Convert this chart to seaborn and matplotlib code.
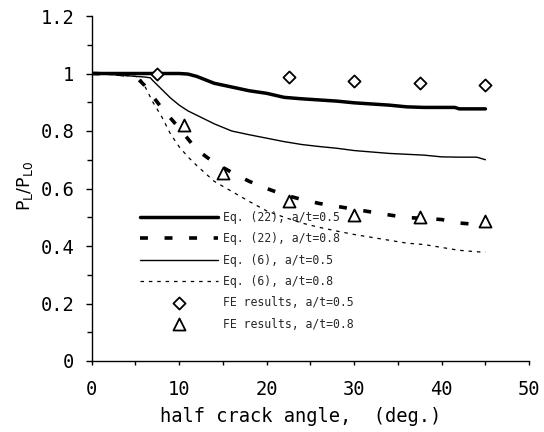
import matplotlib
matplotlib.use("Agg")
import matplotlib.pyplot as plt
import seaborn as sns
import numpy as np
from matplotlib.ticker import MultipleLocator, FuncFormatter

# Half crack angle (deg.) and normalised limit load P_L/P_L0
theta_eq22_05 = [0, 5, 10, 11, 12, 13, 14, 16, 18, 20, 22, 24, 26, 28, 30, 32, 34, 36, 38, 40, 41.5, 42, 45]
pl_eq22_05 = [1.0, 1.0, 1.0, 0.998, 0.99, 0.978, 0.966, 0.953, 0.940, 0.931, 0.917, 0.912,
              0.908, 0.904, 0.898, 0.894, 0.890, 0.884, 0.882, 0.882, 0.882, 0.877, 0.877]

theta_eq22_08 = [0, 3, 5, 6, 7, 8, 9, 10, 12, 14, 16, 18, 20, 22, 24, 26, 28, 30, 32, 34, 36, 38, 40, 42, 44, 45]
pl_eq22_08 = [1.0, 0.998, 0.99, 0.96, 0.92, 0.88, 0.845, 0.81, 0.735, 0.69, 0.656, 0.625, 0.60,
              0.578, 0.562, 0.548, 0.538, 0.528, 0.518, 0.508, 0.499, 0.496, 0.492, 0.48, 0.475, 0.473]

theta_eq6_05 = [0, 3, 5, 6, 6.7, 7, 8, 9, 10, 11, 12, 14, 16, 18, 20, 22, 24, 26, 28, 30, 32, 34,
                36, 38, 40, 42, 44, 45]
pl_eq6_05 = [1.0, 0.995, 0.99, 0.988, 0.985, 0.975, 0.945, 0.915, 0.89, 0.87, 0.855, 0.825, 0.80,
             0.787, 0.775, 0.763, 0.753, 0.746, 0.74, 0.732, 0.727, 0.722, 0.719, 0.716, 0.71,
             0.709, 0.709, 0.70]

theta_eq6_08 = [0, 3, 5, 5.5, 6, 7, 8, 9, 10, 11, 12, 14, 16, 18, 20, 22, 24, 26, 28, 30, 32, 34,
                36, 38, 40, 42, 44, 45]
pl_eq6_08 = [1.0, 0.995, 0.99, 0.985, 0.96, 0.9, 0.85, 0.79, 0.745, 0.71, 0.68, 0.625, 0.59,
             0.555, 0.522, 0.50, 0.48, 0.465, 0.452, 0.44, 0.43, 0.42, 0.41, 0.405, 0.395, 0.385,
             0.38, 0.378]

theta_fe_05 = [7.5, 22.5, 30, 37.5, 45]
pl_fe_05 = [1.0, 0.987, 0.974, 0.968, 0.96]

theta_fe_08 = [10.5, 15, 22.5, 30, 37.5, 45]
pl_fe_08 = [0.82, 0.655, 0.558, 0.508, 0.5, 0.487]

labels = ["Eq. (22), a/t=0.5", "Eq. (22), a/t=0.8", "Eq. (6), a/t=0.5", "Eq. (6), a/t=0.8",
          "FE results, a/t=0.5", "FE results, a/t=0.8"]

x_ticks = [0, 10, 20, 30, 40, 50]
y_ticks = [0, 0.2, 0.4, 0.6, 0.8, 1.0, 1.2]

sns.set_style("ticks")
plt.rcParams["font.family"] = ["DejaVu Sans Mono"]

fig = plt.figure(figsize=(5.44, 4.32), dpi=100)
ax = fig.add_axes([91.7 / 544, 1 - 361 / 432, 437.5 / 544, 345 / 432])

sns.lineplot(x=theta_eq22_05, y=pl_eq22_05, ax=ax, color="black", lw=2.5,
             sort=False, estimator=None, label=labels[0])
sns.lineplot(x=theta_eq22_08, y=pl_eq22_08, ax=ax, color="black", lw=2.6,
             linestyle=(0, (2.2, 4.6)), sort=False, estimator=None, label=labels[1])
sns.lineplot(x=theta_eq6_05, y=pl_eq6_05, ax=ax, color="black", lw=1.0,
             sort=False, estimator=None, label=labels[2])
sns.lineplot(x=theta_eq6_08, y=pl_eq6_08, ax=ax, color="black", lw=0.9,
             linestyle=(0, (2.8, 3.9)), sort=False, estimator=None, label=labels[3])
sns.scatterplot(x=theta_fe_05, y=pl_fe_05, ax=ax, marker="D", s=38, facecolor="white",
                edgecolor="black", linewidth=1.3, label=labels[4], zorder=5)
sns.scatterplot(x=theta_fe_08, y=pl_fe_08, ax=ax, marker="^", s=75, facecolor="white",
                edgecolor="black", linewidth=1.3, label=labels[5], zorder=5)

ax.set_xlim(0, 50)
ax.set_ylim(0, 1.2)
ax.set_xticks(x_ticks)
ax.set_yticks(y_ticks)
ax.xaxis.set_minor_locator(MultipleLocator(5))
ax.yaxis.set_minor_locator(MultipleLocator(0.1))
ax.yaxis.set_major_formatter(FuncFormatter(lambda v, p: f"{v:g}"))
ax.tick_params(axis="x", which="both", direction="out", length=3, width=1,
               pad=11, labelsize=13.5, color="black", labelcolor="black")
ax.tick_params(axis="y", which="major", direction="out", length=4.5, width=1,
               pad=8, labelsize=13.5, color="black", labelcolor="black")
ax.tick_params(axis="y", which="minor", direction="out", length=3.5, width=1, color="black")

sns.despine(ax=ax)
for side in ("left", "bottom"):
    ax.spines[side].set_color("black")
    ax.spines[side].set_linewidth(1.0)
ax.grid(False)

ax.set_xlabel("half crack angle,  (deg.)", fontsize=13.5, color="black")
ax.xaxis.set_label_coords((301 - 91.7) / 437.5, (361 - 407) / 345)
ax.set_ylabel(r"P$_{\rm L}$/P$_{\rm L0}$", fontsize=12.5, color="black", family="DejaVu Sans")
ax.yaxis.set_label_coords(-0.13, 0.507)

ax.legend(loc="upper left", bbox_to_anchor=(140 / 544, 1 - 211 / 432),
          bbox_transform=fig.transFigure, frameon=False, fontsize=8.3,
          handlelength=6.77, handletextpad=0.4, labelspacing=0.72,
          borderpad=0, borderaxespad=0, scatterpoints=1)

fig.savefig("out.png", dpi=100, facecolor="white")
